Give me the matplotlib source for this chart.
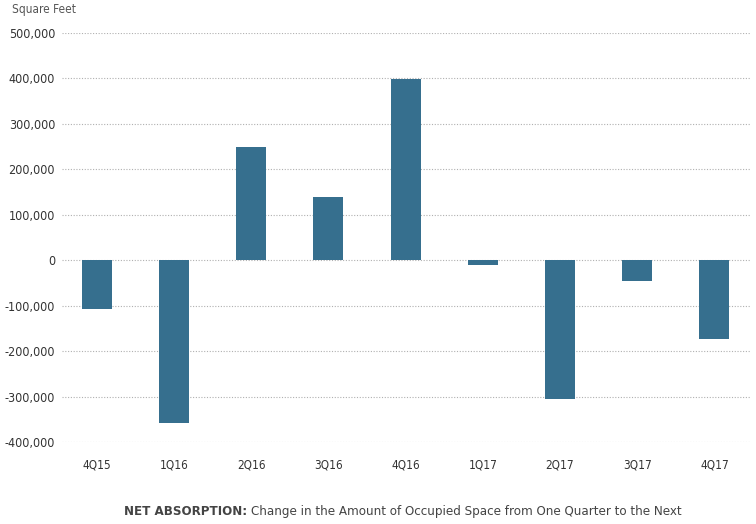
import matplotlib.pyplot as plt
from matplotlib.ticker import FuncFormatter

quarters = ['4Q15', '1Q16', '2Q16', '3Q16', '4Q16', '1Q17', '2Q17', '3Q17', '4Q17']
net_absorption = [-107000, -357000, 249000, 139000, 398000, -10000, -305000, -45000, -173000]

bar_color = '#366f8e'
text_color = '#333333'
font = ['DejaVu Sans']

fig = plt.figure(figsize=(7.56, 5.24), dpi=100)
ax = fig.add_axes([0.082, 0.156, 0.910, 0.781])

ax.bar(range(len(quarters)), net_absorption, width=0.39, color=bar_color, zorder=3)

ax.set_ylim(-400000, 500000)
ax.set_xlim(-0.45, 8.46)
ax.set_yticks(range(-400000, 500001, 100000))
ax.yaxis.set_major_formatter(FuncFormatter(lambda v, p: f'{int(v):,}'))
ax.set_xticks(range(len(quarters)))
ax.set_xticklabels(quarters)

ax.grid(axis='y', linestyle=(0, (1, 1.5)), color='#b0b0b0', linewidth=0.8, zorder=0)
for s in ax.spines.values():
    s.set_visible(False)
ax.tick_params(axis='both', length=0, colors=text_color)
ax.tick_params(axis='y', pad=5)
ax.tick_params(axis='x', pad=12)
for lbl in ax.get_xticklabels() + ax.get_yticklabels():
    lbl.set_family(font)
    lbl.set_fontstretch('condensed')
    lbl.set_fontsize(9)
for lbl in ax.get_xticklabels():
    lbl.set_fontsize(8.5)

fig.text(0.016, 0.982, 'Square Feet', ha='left', va='center', fontsize=8.5,
         color='#555555', family=font, stretch='condensed')

fig.text(0.327, 0.023, 'NET ABSORPTION:', ha='right', va='center', fontsize=9.5,
         fontweight='bold', color='#444444', family=font, stretch='condensed')
fig.text(0.332, 0.023, 'Change in the Amount of Occupied Space from One Quarter to the Next',
         ha='left', va='center', fontsize=9.5, color='#444444', family=font, stretch='condensed')

fig.savefig('out.png', dpi=100)
